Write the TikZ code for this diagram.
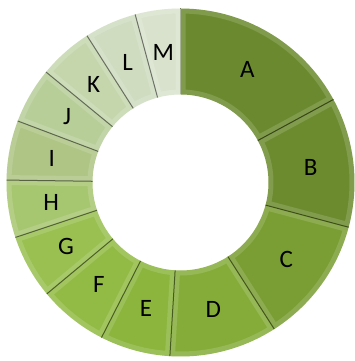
\documentclass[tikz,border=0pt]{standalone}
\usepackage{fontspec}
\setmainfont{Carlito}
\definecolor{segA}{HTML}{6B8A2F}
\definecolor{segB}{HTML}{6C8B2E}
\definecolor{segC}{HTML}{7A9E33}
\definecolor{segD}{HTML}{85AC39}
\definecolor{segE}{HTML}{8BB53D}
\definecolor{segF}{HTML}{92BB45}
\definecolor{segG}{HTML}{99C050}
\definecolor{segH}{HTML}{A7C670}
\definecolor{segI}{HTML}{AEC585}
\definecolor{segJ}{HTML}{B8CE99}
\definecolor{segK}{HTML}{C5D6AD}
\definecolor{segL}{HTML}{CFDCC0}
\definecolor{segM}{HTML}{D9E2CD}
\tikzset{
  seglabel/.style={font=\fontsize{25}{29}\selectfont, text=black},
  bevel/.style={line width=10pt, white, opacity=0.15}
}
\begin{document}
\begin{tikzpicture}[x=1pt,y=1pt]
\useasboundingbox (-180.5,-178.5) rectangle (174.5,182.5);
% ring pieces, clockwise from the top
\foreach \a/\b/\lab in {90/28.5/A,28.5/-14.9/B,-14.9/-57.4/C,-57.4/-93.5/D,
  -93.5/-117/E,-117/-140.2/F,-140.2/-161.6/G,-161.6/-180.8/H,-180.8/-200.7/I,
  -200.7/-219.4/J,-219.4/-237.5/K,-237.5/-254.9/L,-254.9/-270/M}{
  \fill[seg\lab] (\a:174) arc[start angle=\a,end angle=\b,radius=174]
    -- (\b:88) arc[start angle=\b,end angle=\a,radius=88] -- cycle;
  \begin{scope}
    \clip (\a:174) arc[start angle=\a,end angle=\b,radius=174]
      -- (\b:88) arc[start angle=\b,end angle=\a,radius=88] -- cycle;
    \draw[bevel] (\a:174) arc[start angle=\a,end angle=\b,radius=174]
      -- (\b:88) arc[start angle=\b,end angle=\a,radius=88] -- cycle;
  \end{scope}
  \draw[seg\lab!50!black, line width=1pt] (\a:88) -- (\a:174);
  \node[seglabel] (lab\lab) at ({(\a+\b)/2}:131) {\lab};
}
\end{tikzpicture}
\end{document}
